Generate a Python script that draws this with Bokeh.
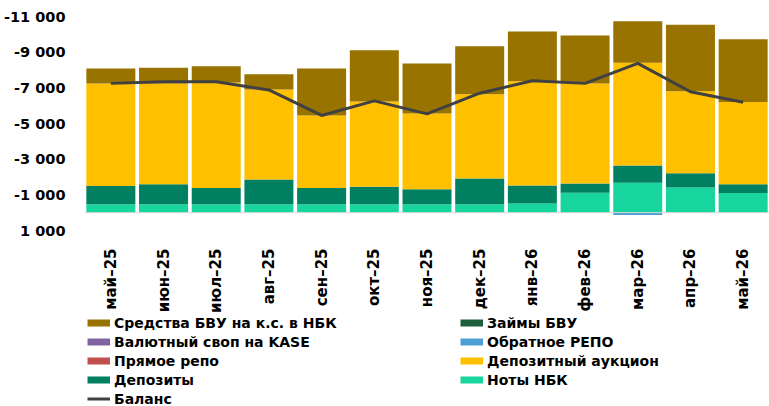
import math
from bokeh.plotting import figure
from bokeh.layouts import column
from bokeh.models import (Range1d, FixedTicker, CustomJSTickFormatter, Span,
                          Legend, LegendItem, ColumnDataSource)
from bokeh.embed import file_html
from bokeh.resources import INLINE

months = ["май–25", "июн–25", "июл–25", "авг–25", "сен–25", "окт–25", "ноя–25",
          "дек–25", "янв–26", "фев–26", "мар–26", "апр–26", "май–26"]

noty_nbk = [-470, -470, -470, -470, -470, -470, -470, -470, -520, -1120, -1680, -1415, -1100]
depozity = [-1020, -1130, -910, -1390, -910, -990, -840, -1440, -1000, -520, -960, -790, -500]
dep_auction = [-5760, -5650, -5920, -5050, -4070, -4770, -4250, -4730, -5850, -5600, -5770, -4610, -4600]
zaimy_bvu = [0] * 13
val_swap = [0] * 13
pryamoe_repo = [0] * 13
sredstva_bvu = [-840, -870, -910, -850, -2640, -2880, -2810, -2690, -2790, -2690, -2320, -3720, -3530]
obratnoe_repo = [0, 0, 0, 0, 0, 0, 0, 0, 0, 0, 130, 0, 0]
balans = [-7250, -7340, -7340, -6880, -5450, -6270, -5540, -6700, -7400, -7250, -8370, -6780, -6190]

y_ticks = [-11000, -9000, -7000, -5000, -3000, -1000, 1000]

C_SRED = "#997300"
C_ZAIM = "#1f5e3d"
C_SWAP = "#8064a2"
C_OBR = "#4a9fd4"
C_PRYAM = "#c0504d"
C_AUC = "#ffc000"
C_DEP = "#008060"
C_NOTY = "#17d59d"
C_BAL = "#404040"

src = ColumnDataSource(dict(month=months, noty=noty_nbk, dep=depozity, auc=dep_auction,
                            zaim=zaimy_bvu, swap=val_swap, pryam=pryamoe_repo,
                            sred=sredstva_bvu, obr=obratnoe_repo, bal=balans))

p = figure(x_range=months, y_range=Range1d(1000, -11000), width=769, height=315,
           output_backend="svg", toolbar_location=None,
           min_border_left=84, min_border_right=0, min_border_top=16, min_border_bottom=84)
p.outline_line_color = None
p.xgrid.visible = False
p.ygrid.visible = False

p.vbar_stack(["noty", "dep", "auc", "zaim", "swap", "pryam", "sred"], x="month", width=0.93,
             color=[C_NOTY, C_DEP, C_AUC, C_ZAIM, C_SWAP, C_PRYAM, C_SRED], source=src,
             line_color=None)
p.vbar(x="month", bottom=0, top="obr", width=0.93, color=C_OBR, line_color=None, source=src)

p.add_layout(Span(location=0, dimension="width", line_color="#d9d9d9", line_width=1))

p.line(x="month", y="bal", line_color=C_BAL, line_width=3, source=src)

p.yaxis.ticker = FixedTicker(ticks=y_ticks)
p.yaxis.formatter = CustomJSTickFormatter(code="""
const s = Math.abs(tick).toFixed(0).replace(/\\B(?=(\\d{3})+(?!\\d))/g, " ");
return (tick < 0 ? "-" : "") + s;
""")
for ax in (p.xaxis[0], p.yaxis[0]):
    ax.axis_line_color = None
    ax.major_tick_line_color = None
    ax.minor_tick_line_color = None
    ax.major_label_text_font = "DejaVu Sans"
    ax.major_label_text_font_style = "bold"
    ax.major_label_text_color = "black"
p.yaxis.major_label_text_font_size = "14.5px"
p.yaxis.major_label_standoff = 13
p.xaxis.major_label_text_font_size = "15px"
p.xaxis.major_label_orientation = math.pi / 2
p.xaxis.major_label_standoff = 12

# legend panel
p2 = figure(width=769, height=91, output_backend="svg", toolbar_location=None,
            x_axis_type=None, y_axis_type=None, min_border=0,
            x_range=Range1d(0, 1), y_range=Range1d(0, 1))
p2.outline_line_color = None
p2.xgrid.visible = False
p2.ygrid.visible = False

def dummy(color, w=7):
    return p2.line(x=[-5, -4], y=[-5, -5], line_color=color, line_width=w)

col1 = [("Средства БВУ на к.с. в НБК", dummy(C_SRED)),
        ("Валютный своп на KASE", dummy(C_SWAP)),
        ("Прямое репо", dummy(C_PRYAM)),
        ("Депозиты", dummy(C_DEP)),
        ("Баланс", dummy(C_BAL, 3))]
col2 = [("Займы БВУ", dummy(C_ZAIM)),
        ("Обратное РЕПО", dummy(C_OBR)),
        ("Депозитный аукцион", dummy(C_AUC)),
        ("Ноты НБК", dummy(C_NOTY))]

def make_legend(items, loc):
    lg = Legend(items=[LegendItem(label=l, renderers=[r]) for l, r in items], location=loc)
    lg.label_text_font = "DejaVu Sans"
    lg.label_text_font_style = "bold"
    lg.label_text_font_size = "14px"
    lg.label_text_color = "black"
    lg.glyph_width = 23
    lg.glyph_height = 17
    lg.label_height = 17
    lg.label_standoff = 4
    lg.spacing = 2
    lg.padding = 0
    lg.margin = 0
    lg.border_line_color = None
    lg.background_fill_alpha = 0
    return lg

p2.add_layout(make_legend(col1, (3, -1)))
p2.add_layout(make_legend(col2, (376, 18)))

layout = column(p, p2, spacing=0)
open("out.html", "w").write(file_html(layout, INLINE))
